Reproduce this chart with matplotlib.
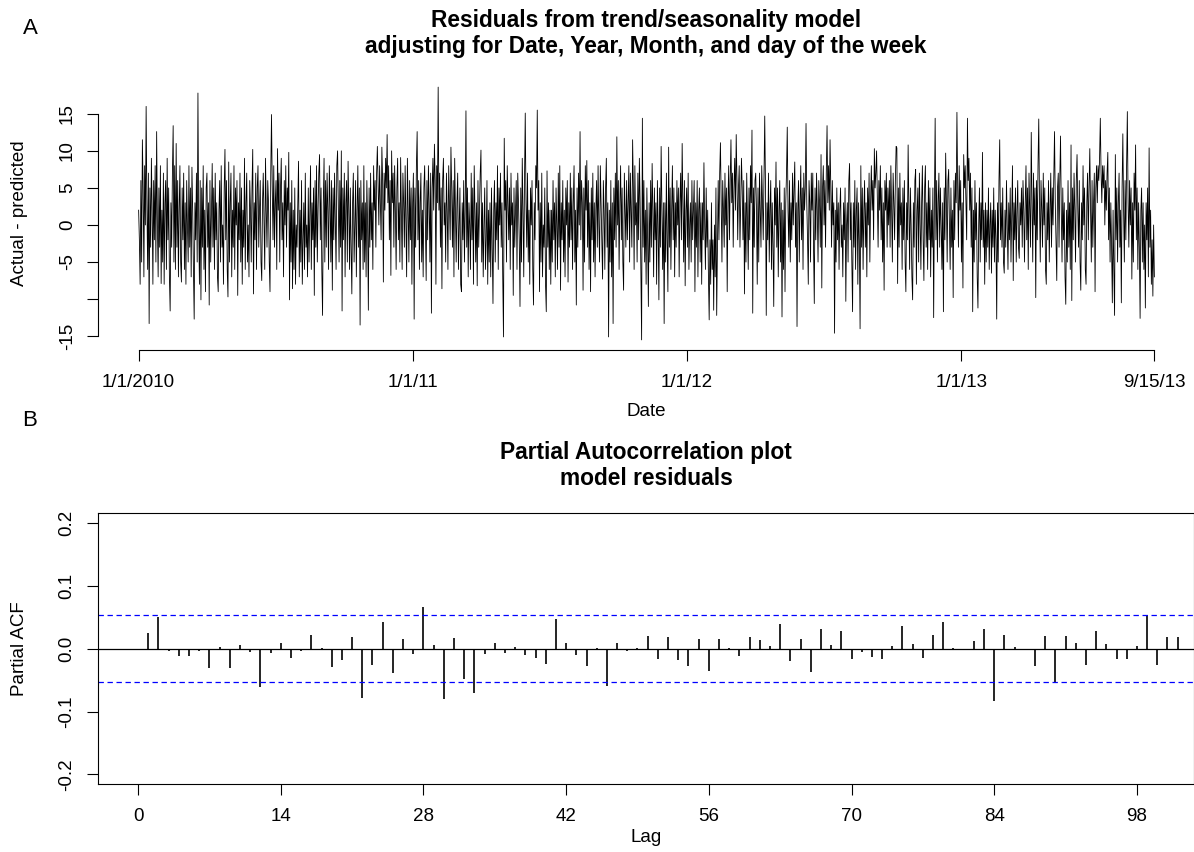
import numpy as np
import pandas as pd
import matplotlib
matplotlib.use("Agg")
import matplotlib.pyplot as plt
import matplotlib.dates as mdates

plt.rcParams['font.family'] = ['Liberation Sans', 'DejaVu Sans']

# ---------------- data ----------------
residuals = [
    2,-2,-8,6,-5,11.5,5,-7,8,0, 16,3,-6,7,-13.3,5,-3,9,2,-8, 6,-2,8,-5,12.6,0,-7,5,-3,8, -7.9,2,-5,7,-8,3,6,-6,9,-2, 5,-7,-11.6,3,-3,7,13.4,-5,8,-6,
    11,-3,6,-7,2,8,-5,-7.7,5,-2, 7,-6,3,-8,6,0,-5,8,-3,5, -7,7.8,2,-6,-12.7,3,-2,7,-5,17.8, 0,-8,6,-10.1,5,-3,8,-6,2,-9, 5,7,-3,3,-10.8,6,-5,2,8.3,-3,
    5,-6,7,-2,3,-7,-9,2,6,-5, 8,-3,0,-8,5,10.2,-2,6,-6,-9.7, 8.5,-5,3,7,-7,2,-3,8,-6,5, 0,6,-9.5,3,-2,7,-5,5,-8,2, -3,9,-6,3,7,-5,0,-7,6,2,
    -5,5,10.2,-9.3,3,-2,7,-6,5,8, -3,2,6,-5,-7.5,3,7,0,-6,9, 2,-3,6,3,-5,-9,7,14.9,5,-2, 8,-3,3,6,-6,10.3,2,7,-5,5, 9,-2,3,-7,6,0,8,-3,5,2,
    9.8,-10.1,3,-5,6,-8.6,2,-6,5,-8, 0,-3,3,8.6,-7,2,-5,6,-8,-2, 3,-6,7,-3,0,-7,5,-5,2,8, -6,3,-2,5,-9.5,6,-3,8,-5,2, 7,9.5,-2,5,-6,-12.2,3,9,-5,6,
    -3,7,2,-6,8,3,-5,6,-8.8,5, -2,7,0,-6,8,10,3,-5,6,-3, 10,-11.6,5,-2,7,-7,3,6,-5,8.6, 2,-6,5,-3,-9.3,3,7,-5,0,6, -7,2,8,-3,5,-13.5,6,-2,3,-6,
    8,-5,3,-7,6,0,-11.5,5,-3,7, -2,3,-6,8,2,6,-3,7,10.6,5, 0,8,3,-2,10.5,6,-7.7,7,2,9, 5,12.2,3,8,-2,6,-6.8,10,3,7, -3,8,2,-6,5,9,-2,3,-5,9.1,
    2,-6,7,3,-3,8,0,-7,9,2, -5,6,-2,5,-8,3,7,-12.7,5,-3, 8,12.6,-2,6,-6,3,7,-5,2,-7, 5,8,0,-7.5,6,-2,8,3,-5,7, -11.9,5,9,2,10.9,6,-8,8,3,18.6,
    2,7,-3,5,-8.6,6,9,0,3,-5, 7,2,-6,8,3,-2,10.5,5,-3,6, -7,9,2,-5,3,7,-6,0,5,-8, -9,3,-2,6,-5,2,15.4,-3,5,-7, 3,0,-6,7,-2,5,-8,8,2,-5,
    3,-8.2,6,-3,2,7,10.1,-5,3,-7, 0,5,-6,-2,6,-8,2,-5,3,-7, 5,-3,-10.6,2,6,-5,3,-2,8,-6, 5,0,7,-3,3,-7,-15.1,11.7,2,6, -5,8,3,-2,5,-6,7,0,3,-9.5,
    5,-3,2,6,-6,7,3,-2,-11,5, -5,9,2,-7,6,15.1,3,-3,7,-5, 2,-8,5,0,6,-6,-10.8,3,-2,8, 5,15.5,2,6,-9,3,-5,7,-7,0, -3,5,-8,-11.7,7.3,-3,3,-6,2,-8,
    2,-5,6,-2,3,-7,5,0,-6,7, -3,8,-8.8,3,-2,6,-5,2,-7,5, 0,6,-7.7,3,-3,7,-2,5,-6,3, 8,-5,2,-10.8,5,-3,7,0,12.6,-2, 6,3,-8.8,5,-5,8,2,8.7,-3,6,
    -6,3,-9,5,-2,7,-5,3,-7,2, 6,-3,8,0,-5,8,3,-2,-7.3,6, 2,-6,5,9,-3,3,-15.1,2,-5,6, -7,3,-13.3,5,-2,7,-3,11.9,0,6, -6,3,8,-2,5,-5,-8.8,7,2,-3,
    6,-2,3,8,-5,7,2,-3,11.5,5, -6,8,0,3,-5,7,-2,9,3,-6, -15.5,14.4,-3,6,-5,2,-8,5,-2,-11, 3,-5,6,-3,8.3,2,-7,5,-2,3, -8,6,0,-10.1,5,-3,10.6,2,-6,3,
    -13.3,3,-5,7,-2,-9,10.5,-3,5,-6, 2,8,-2,5,-7,3,-3,6,0,5, -7,3,7,-2,11,3,-5,6,-8.2,2, 5,-3,7,-6,0,3,-5,6,-2,2, 6,-9,3,-3,6,-7,2,5,-5,3,
    -8,3,-2,8.4,0,-6,5,-3,2,-7, -12.8,-2,-8,3,-6,-2,-11.5,0,-7,5, -12.2,-3,6,-2,7,11.1,3,-5,6,2, -3,7,0,5,-9,3,8,-2,6,11.5, 3,7,-3,5,9,2,12.2,6,-2,5,
    8,-3,3,9,5,-2,6,-9.3,3,-5, 7,0,-6,5,-2,8,3,12.8,-11.9,5, -3,6,7,2,-8,5,-5,7,2,-3, 8,3,-2,6,14.7,5,-12.2,3,-2,7, -5,2,6,-6,3,-3,-11,5,0,8.5,
    -3,5,-7,2,6,-5,3,-12.4,2,-6, 5,-9,3,7,13.2,2,-3,6,-5,3, -2,7,0,5,8.5,-3,3,-13.7,2,6, -5,3,8,-2,5,-6,7,2,5,13.7, 3,-2,-8,6,3,-5,7,2,7,-3,
    -10.6,5,-2,7,2,-5,6,3,-3,9.5, -8.5,5,8,0,6,-3,7,13.4,3,8, 2,11.5,5,-3,6,0,3,-14.6,2,-5, 5,-2,3,-6,2,5,-3,0,-7,3, -2,5,-10.3,0,3,-5,6,8.3,-2,3,
    -5,-11.7,3,-3,6,-6,2,5,-8,3, -2,-14,8,-3,5,-6,2,6,-3,3, -7,5,0,7,-5,3,8,2,6,-2, 10.3,5,7,10,3,-3,6,2,8,-2, 5,-5,3,-8.8,6,2,7,-3,5,0,
    6,-3,8,2,-5,7,3,-2,6,10.6, 10.4,-7.9,5,-3,7,0,3,-6,5,-2, 6,-5,-9,3,-2,10.8,2,-6,5,0, -7,-10.1,3,-3,6,7.5,-8,2,5,-5, 7,0,-6,3,8,-2,-7.5,5,8,-3,
    3,-6,6,-2,5,-7,2,-3,5,-12.5, 3,14.4,-2,6,-5,3,7,-3,5,0, -6,3,-11.7,5,-2,9.7,3,-5,6,7.5, 0,-6,5,-3,2,-9.8,6,-2,7,3, 15.2,5,-3,8,2,6,-5,3,-8.5,9.5,
    5,8,3,-2,14.4,6,9,2,7,-3, 5,-11.7,2,-5,6,-2,3,-7,-11.2,0, 5,-5,3,-2,9.8,-3,2,-8,3,-5, 2,-3,5,-6,0,3,-6.5,2,-3,5, -5,2,-2,-12.7,3,-5,6,11.5,-2,3,
    -3,5,-5,-6.5,2,-3,6,0,-6,3, -2,5,-5,2,8,-7.5,3,-2,5,-5, 2,6,-3,-4.5,3,0,5,-3,6,2, -5,3,8,-2,5,-6,7,2,-3,12.5, 3,-5,7,0,5,-9.8,6,-2,8,14.3,
    3,-5,6,2,-3,7,0,5,-6,-8, 3,-2,6,-5,2,7,-3,5,0,6, 12.6,3,-2,-7.5,5,7,-3,6,12,2, -5,5,-2,3,-7,-10.7,2,-5,6,-3, 3,-6,10.8,-10.2,5,-2,7,2,-5,6,
    9.5,2,-3,6,-5,-8.8,3,-2,8,0, 5,-6,-8,3,7,-2,5,10.3,2,-5, 6,-3,3,7,-9,5,8,3,8,6, 9,14.4,7,3,8,5,8,0,6,2, 7,9.8,-2,5,-5,3,-3,-10.5,2,-6,
    -12.2,9.5,-2,5,-5,3,7,-3,2,-10.5, 5,12.3,2,-5,6,-2,8,15.3,3,-3, 6,0,5,-7.3,3,-5,7,2,10.8,-2, 5,-6,3,-3,-12.6,2,5,-5,3,-6, 0,-11.2,3,-2,5,-7,10.4,-3,2,-8, -2,-9.6,0,-7,
]
start_date = "2010-01-01"
date_ticks = ["2010-01-01", "2011-01-01", "2012-01-01", "2013-01-01", "2013-09-15"]
date_tick_labels = ["1/1/2010", "1/1/11", "1/1/12", "1/1/13", "9/15/13"]
resid_yticks = [-15, -10, -5, 0, 5, 10, 15]
resid_ytick_labels = ["-15", "", "-5", "0", "5", "10", "15"]

pacf_lags = list(range(1, 103))
pacf_values = [
    0.025, 0.050, -0.004, -0.011, -0.011, -0.004, -0.030, 0.003, -0.031, 0.006,
    -0.005, -0.060, -0.007, 0.010, -0.015, -0.004, 0.022, 0.001, -0.029, -0.018,
    0.018, -0.079, -0.025, 0.043, -0.038, 0.016, -0.008, 0.066, 0.006, -0.080,
    0.017, -0.048, -0.070, -0.008, 0.010, -0.007, 0.003, -0.010, -0.014, -0.024,
    0.048, 0.010, -0.010, -0.028, 0.002, -0.059, 0.010, -0.003, 0.002, 0.021,
    -0.017, 0.018, -0.018, -0.028, 0.015, -0.036, 0.016, 0.002, -0.012, 0.019,
    0.014, 0.005, 0.040, -0.020, 0.016, -0.037, 0.031, 0.006, 0.029, -0.017,
    -0.005, -0.013, -0.016, 0.004, 0.037, 0.007, -0.014, 0.022, 0.043, 0.002,
    -0.001, 0.012, 0.031, -0.083, 0.022, 0.003, -0.001, -0.028, 0.021, -0.054,
    0.021, 0.009, -0.026, 0.029, 0.007, -0.017, -0.017, 0.005, 0.053, -0.025,
    0.019, 0.018,
]
lag_ticks = [0, 14, 28, 42, 56, 70, 84, 98]
pacf_yticks = [-0.2, -0.1, 0.0, 0.1, 0.2]
pacf_ytick_labels = ["-0.2", "-0.1", "0.0", "0.1", "0.2"]

# ---------------- figure ----------------
W, H = 1194, 852
fig = plt.figure(figsize=(W / 100, H / 100), dpi=100)

def fx(x):
    return x / W

def fy(y):
    return 1 - y / H

TICK_FS = 13.5
LAB_FS = 13.5
TITLE_FS = 16.4

# ---- panel A ----
dates = pd.date_range(start_date, periods=len(residuals), freq="D")
xd = mdates.date2num(dates)
yv = np.asarray(residuals, dtype=float)

axA = fig.add_axes([fx(98), fy(350), fx(1195) - fx(98), fy(77) - fy(350)])
axA.plot(xd, yv, color="black", lw=0.6)
xr = xd[-1] - xd[0]
axA.set_xlim(xd[0] - 0.04 * xr, xd[-1] + 0.04 * xr)
yr = yv.max() - yv.min()
axA.set_ylim(yv.min() - 0.04 * yr, yv.max() + 0.04 * yr)

tick_nums = mdates.date2num(pd.to_datetime(date_ticks))
axA.set_xticks(tick_nums)
axA.set_xticklabels(date_tick_labels)
axA.set_yticks(resid_yticks)
axA.set_yticklabels(resid_ytick_labels, rotation=90, va="center")
for s in ["top", "right"]:
    axA.spines[s].set_visible(False)
axA.spines["left"].set_bounds(min(resid_yticks), max(resid_yticks))
axA.spines["bottom"].set_bounds(tick_nums[0], tick_nums[-1])
for s in ["left", "bottom"]:
    axA.spines[s].set_linewidth(0.8)
axA.tick_params(axis="both", direction="out", length=8, width=0.8,
                labelsize=TICK_FS)
axA.tick_params(axis="x", pad=9)
axA.tick_params(axis="y", pad=8)

fig.text(fx(30), fy(28), "A", fontsize=16, ha="center", va="center")
fig.text(fx(646), fy(20), "Residuals from trend/seasonality model",
         fontsize=TITLE_FS, fontweight="bold", ha="center", va="center")
fig.text(fx(646), fy(47), "adjusting for Date, Year, Month, and day of the week",
         fontsize=TITLE_FS, fontweight="bold", ha="center", va="center")
fig.text(fx(20), fy(213), "Actual - predicted", fontsize=LAB_FS,
         rotation=90, ha="center", va="center")
fig.text(fx(646), fy(411), "Date", fontsize=LAB_FS, ha="center", va="center")

# ---- panel B ----
axB = fig.add_axes([fx(97.7), fy(784.3), fx(1194) - fx(97.7), fy(513.3) - fy(784.3)])
ci = 1.96 / np.sqrt(len(residuals))
axB.vlines(pacf_lags, 0, pacf_values, color="black", lw=1.2)
axB.axhline(0, color="black", lw=0.9)
axB.axhline(ci, color="#0000FF", lw=0.9, ls=(0, (4.3, 2.9)))
axB.axhline(-ci, color="#0000FF", lw=0.9, ls=(0, (4.3, 2.9)))
axB.set_xlim(-3.96, 103.6)
axB.set_ylim(-0.2156, 0.2156)
axB.set_xticks(lag_ticks)
axB.set_xticklabels([str(t) for t in lag_ticks])
axB.set_yticks(pacf_yticks)
axB.set_yticklabels(pacf_ytick_labels, rotation=90, va="center")
for s in axB.spines.values():
    s.set_linewidth(0.8)
axB.tick_params(axis="both", direction="out", length=8, width=0.8,
                labelsize=TICK_FS)
axB.tick_params(axis="x", pad=9)
axB.tick_params(axis="y", pad=8)

fig.text(fx(30), fy(421), "B", fontsize=16, ha="center", va="center")
fig.text(fx(646), fy(452), "Partial Autocorrelation plot",
         fontsize=TITLE_FS, fontweight="bold", ha="center", va="center")
fig.text(fx(646), fy(479), "model residuals",
         fontsize=TITLE_FS, fontweight="bold", ha="center", va="center")
fig.text(fx(20), fy(649), "Partial ACF", fontsize=LAB_FS,
         rotation=90, ha="center", va="center")
fig.text(fx(646), fy(838), "Lag", fontsize=LAB_FS, ha="center", va="center")

fig.savefig("out.png", dpi=100)
